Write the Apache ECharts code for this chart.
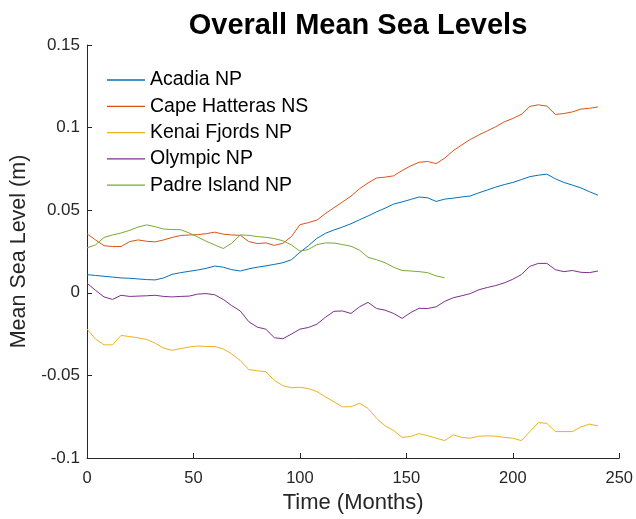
<!DOCTYPE html>
<html>
<head>
<meta charset="utf-8">
<script src="https://cdn.jsdelivr.net/npm/echarts@6/dist/echarts.min.js"></script>
<style>html,body{margin:0;padding:0;background:#fff}#c{width:636px;height:519px}</style>
</head>
<body>
<div id="c"></div>
<script>
const seriesNames = ['Acadia NP', 'Cape Hatteras NS', 'Kenai Fjords NP', 'Olympic NP', 'Padre Island NP'];
const months = [0,4,8,12,16,20,24,28,32,36,40,44,48,52,56,60,64,68,72,76,80,84,88,92,96,100,104,108,112,116,120,124,128,132,136,140,144,148,152,156,160,164,168,172,176,180,184,188,192,196,200,204,208,212,216,220,224,228,232,236,240];
const acadia = [0.0110,0.0105,0.0100,0.0095,0.0090,0.0088,0.0084,0.0080,0.0078,0.0090,0.0112,0.0122,0.0130,0.0138,0.0148,0.0162,0.0155,0.0140,0.0132,0.0145,0.0155,0.0163,0.0172,0.0182,0.0200,0.0245,0.0285,0.0330,0.0360,0.0380,0.0398,0.0418,0.0442,0.0465,0.0490,0.0512,0.0537,0.0550,0.0565,0.0580,0.0575,0.0553,0.0567,0.0573,0.0580,0.0586,0.0605,0.0622,0.0640,0.0655,0.0668,0.0685,0.0703,0.0712,0.0718,0.0690,0.0668,0.0652,0.0635,0.0612,0.0591];
const capeHatteras = [0.0357,0.0320,0.0285,0.0280,0.0280,0.0310,0.0320,0.0312,0.0308,0.0320,0.0335,0.0347,0.0350,0.0352,0.0358,0.0367,0.0355,0.0350,0.0348,0.0310,0.0298,0.0302,0.0287,0.0300,0.0340,0.0412,0.0425,0.0440,0.0480,0.0515,0.0550,0.0585,0.0630,0.0665,0.0695,0.0700,0.0708,0.0740,0.0768,0.0790,0.0795,0.0782,0.0815,0.0860,0.0895,0.0928,0.0955,0.0980,0.1005,0.1035,0.1055,0.1080,0.1128,0.1138,0.1130,0.1080,0.1085,0.1095,0.1112,0.1117,0.1125];
const kenai = [-0.0219,-0.0280,-0.0315,-0.0315,-0.0258,-0.0265,-0.0272,-0.0282,-0.0305,-0.0335,-0.0348,-0.0338,-0.0328,-0.0322,-0.0325,-0.0325,-0.0340,-0.0370,-0.0410,-0.0465,-0.0472,-0.0478,-0.0530,-0.0562,-0.0575,-0.0572,-0.0580,-0.0598,-0.0630,-0.0660,-0.0690,-0.0690,-0.0668,-0.0700,-0.0760,-0.0805,-0.0833,-0.0875,-0.0870,-0.0852,-0.0865,-0.0880,-0.0895,-0.0860,-0.0875,-0.0880,-0.0868,-0.0866,-0.0868,-0.0875,-0.0880,-0.0895,-0.0840,-0.0786,-0.0790,-0.0840,-0.0840,-0.0840,-0.0812,-0.0795,-0.0806];
const olympic = [0.0058,0.0015,-0.0025,-0.0040,-0.0015,-0.0022,-0.0020,-0.0018,-0.0015,-0.0022,-0.0025,-0.0022,-0.0020,-0.0008,-0.0005,-0.0012,-0.0040,-0.0078,-0.0110,-0.0175,-0.0208,-0.0220,-0.0272,-0.0278,-0.0250,-0.0220,-0.0210,-0.0190,-0.0148,-0.0112,-0.0110,-0.0125,-0.0085,-0.0058,-0.0095,-0.0105,-0.0125,-0.0155,-0.0120,-0.0094,-0.0095,-0.0085,-0.0052,-0.0030,-0.0018,-0.0005,0.0018,0.0032,0.0044,0.0060,0.0082,0.0110,0.0160,0.0178,0.0178,0.0140,0.0128,0.0135,0.0124,0.0122,0.0132];
const padreIsland = [0.0272,0.0290,0.0335,0.0350,0.0362,0.0378,0.0398,0.0411,0.0400,0.0386,0.0383,0.0382,0.0362,0.0338,0.0312,0.0290,0.0268,0.0300,0.0350,0.0348,0.0340,0.0336,0.0328,0.0315,0.0290,0.0252,0.0262,0.0292,0.0302,0.0301,0.0292,0.0282,0.0258,0.0215,0.0200,0.0182,0.0155,0.0135,0.0132,0.0128,0.0122,0.0102,0.0092];
const xTicks = [0, 50, 100, 150, 200, 250];
const yTicks = [-0.1, -0.05, 0, 0.05, 0.1, 0.15];

const colors = ['#0072BD', '#D95319', '#EDB120', '#7E2F8E', '#77AC30'];
const allValues = [acadia, capeHatteras, kenai, olympic, padreIsland];
const font = '"Liberation Sans", Arial, Helvetica, sans-serif';
const axisColor = '#262626';

const chart = echarts.init(document.getElementById('c'));
chart.setOption({
  animation: false,
  backgroundColor: '#ffffff',
  title: {
    text: 'Overall Mean Sea Levels',
    left: 353, top: 6, textAlign: 'center',
    textStyle: { fontFamily: font, fontWeight: 'bold', fontSize: 29, color: '#000' }
  },
  legend: {
    orient: 'vertical', left: 102, top: 65,
    icon: 'rect', itemWidth: 38, itemHeight: 1.3, itemGap: 6.3,
    data: seriesNames,
    textStyle: { fontFamily: font, fontSize: 19.5, color: '#000' }
  },
  grid: { left: 87, right: 14, top: 45, bottom: 59, containLabel: false },
  xAxis: {
    type: 'value', min: xTicks[0], max: xTicks[xTicks.length-1], interval: 50,
    name: 'Time (Months)', nameLocation: 'middle', nameGap: 34,
    nameTextStyle: { fontFamily: font, fontSize: 22, color: axisColor },
    axisLine: { show: true, onZero: false, lineStyle: { color: axisColor, width: 1 } },
    axisTick: { show: true, inside: true, length: 5, lineStyle: { color: axisColor } },
    axisLabel: { fontFamily: font, fontSize: 16.5, color: axisColor, margin: 12 },
    splitLine: { show: false }
  },
  yAxis: {
    type: 'value', min: yTicks[0], max: yTicks[yTicks.length-1], interval: 0.05,
    name: 'Mean Sea Level (m)', nameLocation: 'middle', nameGap: 49, nameRotate: 90,
    nameTextStyle: { fontFamily: font, fontSize: 21.5, color: axisColor },
    axisLine: { show: true, onZero: false, lineStyle: { color: axisColor, width: 1 } },
    axisTick: { show: true, inside: true, length: 5, lineStyle: { color: axisColor } },
    axisLabel: { fontFamily: font, fontSize: 17, color: axisColor, margin: 7,
      formatter: v => String(+v.toFixed(3)) },
    splitLine: { show: false }
  },
  series: seriesNames.map((n, i) => ({
    name: n, type: 'line', symbol: 'none', showSymbol: false,
    color: colors[i],
    lineStyle: { width: 1, color: colors[i] },
    data: allValues[i].map((v, j) => [months[j], v])
  }))
});
</script>
</body>
</html>
